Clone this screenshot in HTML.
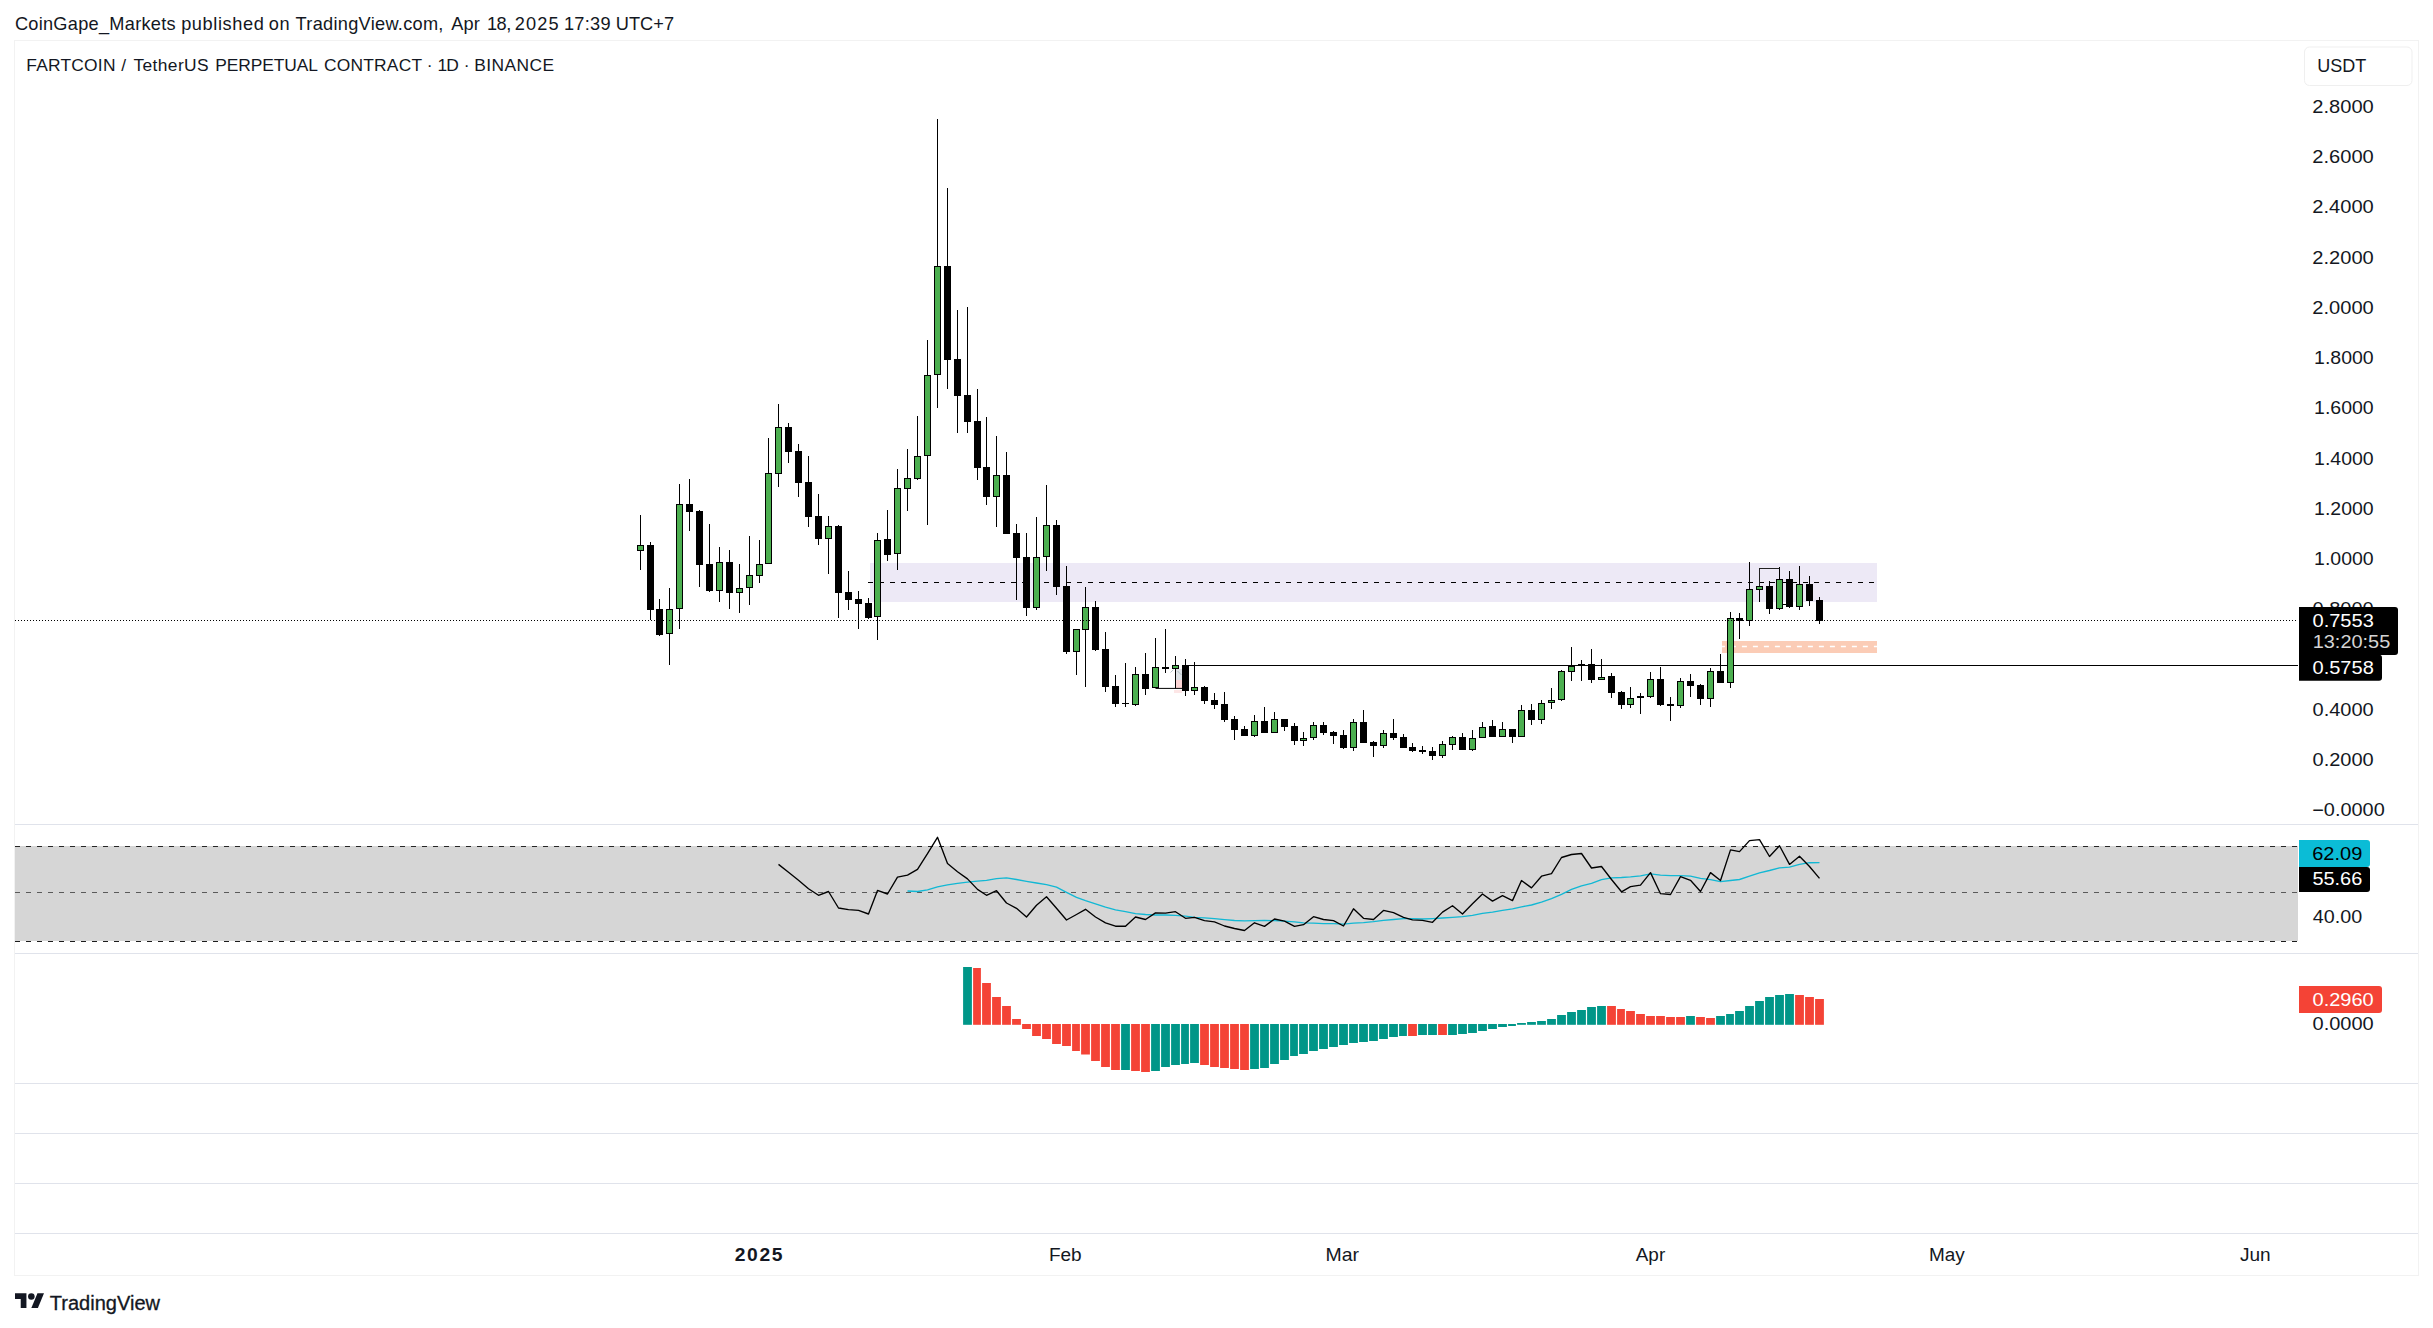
<!DOCTYPE html>
<html lang="en">
<head>
<meta charset="utf-8">
<title>FARTCOIN / TetherUS PERPETUAL CONTRACT - TradingView snapshot</title>
<style>
html,body{margin:0;padding:0;background:#fff;}
body{width:2433px;height:1328px;position:relative;overflow:hidden;font-family:"Liberation Sans", Arial, sans-serif;color:#131722;}
.chart{position:absolute;left:0;top:0;display:block;}
.header{position:absolute;left:0;top:0;width:2433px;height:40px;}
.footer{position:absolute;left:0;top:1276px;width:2433px;height:52px;}
svg text{white-space:pre;}
</style>
</head>
<body>
<svg class="chart" width="2433" height="1328" viewBox="0 0 2433 1328" font-family='"Liberation Sans", Arial, sans-serif'>
<g shape-rendering="crispEdges">
<rect x="14" y="40" width="2405" height="1" fill="#f2f2f2" />
<rect x="14" y="1275" width="2405" height="1" fill="#f2f2f2" />
<rect x="14" y="40" width="1" height="1236" fill="#f2f2f2" />
<rect x="2418" y="40" width="1" height="1236" fill="#f2f2f2" />
<rect x="15" y="824" width="2403" height="1" fill="#e0e3eb" />
<rect x="15" y="953" width="2403" height="1" fill="#e0e3eb" />
<rect x="15" y="1083" width="2403" height="1" fill="#e0e3eb" />
<rect x="15" y="1133" width="2403" height="1" fill="#e0e3eb" />
<rect x="15" y="1183" width="2403" height="1" fill="#e0e3eb" />
<rect x="15" y="1233" width="2403" height="1" fill="#e0e3eb" />
</g>
<g shape-rendering="crispEdges">
<rect x="870" y="563" width="1007" height="39" fill="#ede9f6" />
<rect x="1722" y="641" width="155" height="12" fill="#fbccb6" />
</g>
<line x1="1719.9" y1="646.5" x2="1877" y2="646.5" stroke="#ffffff" stroke-width="1.5" stroke-dasharray="5 6"/>
<g shape-rendering="crispEdges">
<rect x="15" y="846" width="2283" height="95.3" fill="#d6d6d6" />
</g>
<line x1="15" y1="846.5" x2="2298" y2="846.5" stroke="#262626" stroke-width="1" stroke-dasharray="5 6"/>
<line x1="15" y1="892.5" x2="2298" y2="892.5" stroke="#5a5a5a" stroke-width="1" stroke-dasharray="5 6"/>
<line x1="15" y1="941.5" x2="2298" y2="941.5" stroke="#1c1c1c" stroke-width="1.2" stroke-dasharray="5 6"/>
<g shape-rendering="crispEdges">
<rect x="1176" y="669" width="6" height="11" fill="#dde2e6" />
<rect x="1176" y="680" width="6" height="8" fill="#fbd3d3" />
<rect x="1174" y="690" width="8" height="3" fill="#fde6e6" />
</g>
<path d="M1155.5 688.4H1182.5M1175.5 668.5V688.4" stroke="#000" stroke-width="1" fill="none"/>
<path d="M1170.5 672.5l3-3M1177.5 671l4 4" stroke="#9fb3b8" stroke-width="0.8" fill="none"/>
<line x1="868" y1="582.5" x2="1875" y2="582.5" stroke="#000" stroke-width="1" stroke-dasharray="5 6"/>
<g shape-rendering="crispEdges">
<rect x="1186" y="665" width="1112" height="1" fill="#000" />
</g>
<g shape-rendering="crispEdges">
<rect x="640" y="515" width="1" height="55" fill="#000" />
<rect x="637" y="545" width="7" height="6" fill="#000" />
<rect x="638" y="546" width="5" height="4" fill="#4caf50" />
<rect x="650" y="542" width="1" height="78" fill="#000" />
<rect x="647" y="545" width="7" height="65" fill="#000" />
<rect x="659" y="599" width="1" height="37" fill="#000" />
<rect x="656" y="609" width="7" height="26" fill="#000" />
<rect x="669" y="588" width="1" height="77" fill="#000" />
<rect x="666" y="609" width="7" height="25" fill="#000" />
<rect x="667" y="610" width="5" height="23" fill="#4caf50" />
<rect x="679" y="484" width="1" height="145" fill="#000" />
<rect x="676" y="504" width="7" height="105" fill="#000" />
<rect x="677" y="505" width="5" height="103" fill="#4caf50" />
<rect x="689" y="479" width="1" height="52" fill="#000" />
<rect x="686" y="504" width="7" height="8" fill="#000" />
<rect x="699" y="510" width="1" height="77" fill="#000" />
<rect x="696" y="511" width="7" height="54" fill="#000" />
<rect x="709" y="524" width="1" height="68" fill="#000" />
<rect x="706" y="564" width="7" height="27" fill="#000" />
<rect x="719" y="547" width="1" height="55" fill="#000" />
<rect x="716" y="562" width="7" height="29" fill="#000" />
<rect x="717" y="563" width="5" height="27" fill="#4caf50" />
<rect x="729" y="550" width="1" height="59" fill="#000" />
<rect x="726" y="562" width="7" height="31" fill="#000" />
<rect x="739" y="564" width="1" height="49" fill="#000" />
<rect x="736" y="588" width="7" height="5" fill="#000" />
<rect x="737" y="589" width="5" height="3" fill="#4caf50" />
<rect x="749" y="536" width="1" height="69" fill="#000" />
<rect x="746" y="575" width="7" height="13" fill="#000" />
<rect x="747" y="576" width="5" height="11" fill="#4caf50" />
<rect x="759" y="540" width="1" height="43" fill="#000" />
<rect x="756" y="564" width="7" height="12" fill="#000" />
<rect x="757" y="565" width="5" height="10" fill="#4caf50" />
<rect x="768" y="438" width="1" height="126" fill="#000" />
<rect x="765" y="473" width="7" height="91" fill="#000" />
<rect x="766" y="474" width="5" height="89" fill="#4caf50" />
<rect x="778" y="404" width="1" height="83" fill="#000" />
<rect x="775" y="427" width="7" height="47" fill="#000" />
<rect x="776" y="428" width="5" height="45" fill="#4caf50" />
<rect x="788" y="423" width="1" height="40" fill="#000" />
<rect x="785" y="427" width="7" height="25" fill="#000" />
<rect x="798" y="444" width="1" height="53" fill="#000" />
<rect x="795" y="451" width="7" height="32" fill="#000" />
<rect x="808" y="456" width="1" height="71" fill="#000" />
<rect x="805" y="482" width="7" height="35" fill="#000" />
<rect x="818" y="494" width="1" height="51" fill="#000" />
<rect x="815" y="516" width="7" height="23" fill="#000" />
<rect x="828" y="516" width="1" height="58" fill="#000" />
<rect x="825" y="526" width="7" height="13" fill="#000" />
<rect x="826" y="527" width="5" height="11" fill="#4caf50" />
<rect x="838" y="525" width="1" height="93" fill="#000" />
<rect x="835" y="526" width="7" height="67" fill="#000" />
<rect x="848" y="571" width="1" height="39" fill="#000" />
<rect x="845" y="592" width="7" height="8" fill="#000" />
<rect x="858" y="591" width="1" height="38" fill="#000" />
<rect x="855" y="599" width="7" height="5" fill="#000" />
<rect x="868" y="598" width="1" height="21" fill="#000" />
<rect x="865" y="603" width="7" height="15" fill="#000" />
<rect x="877" y="533" width="1" height="107" fill="#000" />
<rect x="874" y="540" width="7" height="77" fill="#000" />
<rect x="875" y="541" width="5" height="75" fill="#4caf50" />
<rect x="887" y="510" width="1" height="51" fill="#000" />
<rect x="884" y="539" width="7" height="16" fill="#000" />
<rect x="897" y="469" width="1" height="101" fill="#000" />
<rect x="894" y="488" width="7" height="66" fill="#000" />
<rect x="895" y="489" width="5" height="64" fill="#4caf50" />
<rect x="907" y="449" width="1" height="62" fill="#000" />
<rect x="904" y="478" width="7" height="11" fill="#000" />
<rect x="905" y="479" width="5" height="9" fill="#4caf50" />
<rect x="917" y="416" width="1" height="64" fill="#000" />
<rect x="914" y="456" width="7" height="23" fill="#000" />
<rect x="915" y="457" width="5" height="21" fill="#4caf50" />
<rect x="927" y="340" width="1" height="185" fill="#000" />
<rect x="924" y="375" width="7" height="81" fill="#000" />
<rect x="925" y="376" width="5" height="79" fill="#4caf50" />
<rect x="937" y="119" width="1" height="289" fill="#000" />
<rect x="934" y="266" width="7" height="109" fill="#000" />
<rect x="935" y="267" width="5" height="107" fill="#4caf50" />
<rect x="947" y="188" width="1" height="201" fill="#000" />
<rect x="944" y="266" width="7" height="94" fill="#000" />
<rect x="957" y="310" width="1" height="123" fill="#000" />
<rect x="954" y="359" width="7" height="37" fill="#000" />
<rect x="967" y="307" width="1" height="126" fill="#000" />
<rect x="964" y="395" width="7" height="27" fill="#000" />
<rect x="977" y="389" width="1" height="91" fill="#000" />
<rect x="974" y="421" width="7" height="47" fill="#000" />
<rect x="986" y="417" width="1" height="88" fill="#000" />
<rect x="983" y="467" width="7" height="30" fill="#000" />
<rect x="996" y="436" width="1" height="91" fill="#000" />
<rect x="993" y="475" width="7" height="22" fill="#000" />
<rect x="994" y="476" width="5" height="20" fill="#4caf50" />
<rect x="1006" y="452" width="1" height="82" fill="#000" />
<rect x="1003" y="475" width="7" height="59" fill="#000" />
<rect x="1016" y="524" width="1" height="76" fill="#000" />
<rect x="1013" y="533" width="7" height="25" fill="#000" />
<rect x="1026" y="533" width="1" height="83" fill="#000" />
<rect x="1023" y="557" width="7" height="51" fill="#000" />
<rect x="1036" y="517" width="1" height="93" fill="#000" />
<rect x="1033" y="557" width="7" height="51" fill="#000" />
<rect x="1034" y="558" width="5" height="49" fill="#4caf50" />
<rect x="1046" y="485" width="1" height="86" fill="#000" />
<rect x="1043" y="525" width="7" height="32" fill="#000" />
<rect x="1044" y="526" width="5" height="30" fill="#4caf50" />
<rect x="1056" y="520" width="1" height="75" fill="#000" />
<rect x="1053" y="525" width="7" height="62" fill="#000" />
<rect x="1066" y="566" width="1" height="88" fill="#000" />
<rect x="1063" y="586" width="7" height="66" fill="#000" />
<rect x="1076" y="629" width="1" height="46" fill="#000" />
<rect x="1073" y="629" width="7" height="23" fill="#000" />
<rect x="1074" y="630" width="5" height="21" fill="#4caf50" />
<rect x="1085" y="587" width="1" height="100" fill="#000" />
<rect x="1082" y="607" width="7" height="23" fill="#000" />
<rect x="1083" y="608" width="5" height="21" fill="#4caf50" />
<rect x="1095" y="601" width="1" height="50" fill="#000" />
<rect x="1092" y="607" width="7" height="43" fill="#000" />
<rect x="1105" y="632" width="1" height="60" fill="#000" />
<rect x="1102" y="649" width="7" height="38" fill="#000" />
<rect x="1115" y="675" width="1" height="32" fill="#000" />
<rect x="1112" y="686" width="7" height="18" fill="#000" />
<rect x="1125" y="663" width="1" height="44" fill="#000" />
<rect x="1122" y="703" width="7" height="1" fill="#000" />
<rect x="1135" y="667" width="1" height="39" fill="#000" />
<rect x="1132" y="674" width="7" height="31" fill="#000" />
<rect x="1133" y="675" width="5" height="29" fill="#4caf50" />
<rect x="1145" y="653" width="1" height="42" fill="#000" />
<rect x="1142" y="674" width="7" height="15" fill="#000" />
<rect x="1155" y="638" width="1" height="50" fill="#000" />
<rect x="1152" y="667" width="7" height="21" fill="#000" />
<rect x="1153" y="668" width="5" height="19" fill="#4caf50" />
<rect x="1165" y="629" width="1" height="44" fill="#000" />
<rect x="1162" y="667" width="7" height="2" fill="#000" />
<rect x="1175" y="656" width="1" height="13" fill="#000" />
<rect x="1172" y="665" width="7" height="4" fill="#000" />
<rect x="1173" y="666" width="5" height="2" fill="#4caf50" />
<rect x="1185" y="659" width="1" height="37" fill="#000" />
<rect x="1182" y="665" width="7" height="26" fill="#000" />
<rect x="1194" y="662" width="1" height="33" fill="#000" />
<rect x="1191" y="687" width="7" height="4" fill="#000" />
<rect x="1192" y="688" width="5" height="2" fill="#4caf50" />
<rect x="1204" y="686" width="1" height="18" fill="#000" />
<rect x="1201" y="687" width="7" height="14" fill="#000" />
<rect x="1214" y="693" width="1" height="16" fill="#000" />
<rect x="1211" y="700" width="7" height="5" fill="#000" />
<rect x="1224" y="692" width="1" height="30" fill="#000" />
<rect x="1221" y="704" width="7" height="16" fill="#000" />
<rect x="1234" y="716" width="1" height="24" fill="#000" />
<rect x="1231" y="719" width="7" height="11" fill="#000" />
<rect x="1244" y="726" width="1" height="10" fill="#000" />
<rect x="1241" y="729" width="7" height="7" fill="#000" />
<rect x="1254" y="715" width="1" height="22" fill="#000" />
<rect x="1251" y="721" width="7" height="15" fill="#000" />
<rect x="1252" y="722" width="5" height="13" fill="#4caf50" />
<rect x="1264" y="707" width="1" height="26" fill="#000" />
<rect x="1261" y="721" width="7" height="12" fill="#000" />
<rect x="1274" y="712" width="1" height="21" fill="#000" />
<rect x="1271" y="719" width="7" height="14" fill="#000" />
<rect x="1272" y="720" width="5" height="12" fill="#4caf50" />
<rect x="1284" y="719" width="1" height="12" fill="#000" />
<rect x="1281" y="719" width="7" height="8" fill="#000" />
<rect x="1294" y="723" width="1" height="22" fill="#000" />
<rect x="1291" y="726" width="7" height="15" fill="#000" />
<rect x="1303" y="732" width="1" height="14" fill="#000" />
<rect x="1300" y="738" width="7" height="3" fill="#000" />
<rect x="1301" y="739" width="5" height="1" fill="#4caf50" />
<rect x="1313" y="722" width="1" height="18" fill="#000" />
<rect x="1310" y="725" width="7" height="13" fill="#000" />
<rect x="1311" y="726" width="5" height="11" fill="#4caf50" />
<rect x="1323" y="722" width="1" height="13" fill="#000" />
<rect x="1320" y="725" width="7" height="8" fill="#000" />
<rect x="1333" y="731" width="1" height="13" fill="#000" />
<rect x="1330" y="732" width="7" height="4" fill="#000" />
<rect x="1343" y="730" width="1" height="19" fill="#000" />
<rect x="1340" y="735" width="7" height="13" fill="#000" />
<rect x="1353" y="719" width="1" height="32" fill="#000" />
<rect x="1350" y="722" width="7" height="26" fill="#000" />
<rect x="1351" y="723" width="5" height="24" fill="#4caf50" />
<rect x="1363" y="710" width="1" height="33" fill="#000" />
<rect x="1360" y="722" width="7" height="21" fill="#000" />
<rect x="1373" y="741" width="1" height="16" fill="#000" />
<rect x="1370" y="742" width="7" height="4" fill="#000" />
<rect x="1383" y="730" width="1" height="18" fill="#000" />
<rect x="1380" y="733" width="7" height="13" fill="#000" />
<rect x="1381" y="734" width="5" height="11" fill="#4caf50" />
<rect x="1393" y="719" width="1" height="21" fill="#000" />
<rect x="1390" y="733" width="7" height="5" fill="#000" />
<rect x="1403" y="734" width="1" height="14" fill="#000" />
<rect x="1400" y="737" width="7" height="11" fill="#000" />
<rect x="1412" y="743" width="1" height="9" fill="#000" />
<rect x="1409" y="747" width="7" height="4" fill="#000" />
<rect x="1422" y="746" width="1" height="8" fill="#000" />
<rect x="1419" y="750" width="7" height="2" fill="#000" />
<rect x="1432" y="747" width="1" height="13" fill="#000" />
<rect x="1429" y="751" width="7" height="5" fill="#000" />
<rect x="1442" y="741" width="1" height="17" fill="#000" />
<rect x="1439" y="744" width="7" height="12" fill="#000" />
<rect x="1440" y="745" width="5" height="10" fill="#4caf50" />
<rect x="1452" y="736" width="1" height="14" fill="#000" />
<rect x="1449" y="737" width="7" height="8" fill="#000" />
<rect x="1450" y="738" width="5" height="6" fill="#4caf50" />
<rect x="1462" y="733" width="1" height="17" fill="#000" />
<rect x="1459" y="737" width="7" height="13" fill="#000" />
<rect x="1472" y="730" width="1" height="21" fill="#000" />
<rect x="1469" y="738" width="7" height="12" fill="#000" />
<rect x="1470" y="739" width="5" height="10" fill="#4caf50" />
<rect x="1482" y="722" width="1" height="16" fill="#000" />
<rect x="1479" y="727" width="7" height="11" fill="#000" />
<rect x="1480" y="728" width="5" height="9" fill="#4caf50" />
<rect x="1492" y="720" width="1" height="17" fill="#000" />
<rect x="1489" y="726" width="7" height="11" fill="#000" />
<rect x="1502" y="722" width="1" height="15" fill="#000" />
<rect x="1499" y="729" width="7" height="8" fill="#000" />
<rect x="1500" y="730" width="5" height="6" fill="#4caf50" />
<rect x="1512" y="729" width="1" height="14" fill="#000" />
<rect x="1509" y="729" width="7" height="8" fill="#000" />
<rect x="1521" y="705" width="1" height="32" fill="#000" />
<rect x="1518" y="710" width="7" height="27" fill="#000" />
<rect x="1519" y="711" width="5" height="25" fill="#4caf50" />
<rect x="1531" y="704" width="1" height="21" fill="#000" />
<rect x="1528" y="710" width="7" height="10" fill="#000" />
<rect x="1541" y="700" width="1" height="24" fill="#000" />
<rect x="1538" y="703" width="7" height="17" fill="#000" />
<rect x="1539" y="704" width="5" height="15" fill="#4caf50" />
<rect x="1551" y="688" width="1" height="21" fill="#000" />
<rect x="1548" y="700" width="7" height="3" fill="#000" />
<rect x="1549" y="701" width="5" height="1" fill="#4caf50" />
<rect x="1561" y="670" width="1" height="31" fill="#000" />
<rect x="1558" y="671" width="7" height="29" fill="#000" />
<rect x="1559" y="672" width="5" height="27" fill="#4caf50" />
<rect x="1571" y="647" width="1" height="34" fill="#000" />
<rect x="1568" y="666" width="7" height="6" fill="#000" />
<rect x="1569" y="667" width="5" height="4" fill="#4caf50" />
<rect x="1581" y="660" width="1" height="21" fill="#000" />
<rect x="1578" y="664" width="7" height="2" fill="#000" />
<rect x="1591" y="649" width="1" height="34" fill="#000" />
<rect x="1588" y="664" width="7" height="16" fill="#000" />
<rect x="1601" y="659" width="1" height="21" fill="#000" />
<rect x="1598" y="677" width="7" height="3" fill="#000" />
<rect x="1599" y="678" width="5" height="1" fill="#4caf50" />
<rect x="1611" y="673" width="1" height="25" fill="#000" />
<rect x="1608" y="676" width="7" height="17" fill="#000" />
<rect x="1621" y="691" width="1" height="18" fill="#000" />
<rect x="1618" y="692" width="7" height="13" fill="#000" />
<rect x="1630" y="687" width="1" height="21" fill="#000" />
<rect x="1627" y="698" width="7" height="7" fill="#000" />
<rect x="1628" y="699" width="5" height="5" fill="#4caf50" />
<rect x="1640" y="693" width="1" height="21" fill="#000" />
<rect x="1637" y="696" width="7" height="2" fill="#000" />
<rect x="1650" y="672" width="1" height="26" fill="#000" />
<rect x="1647" y="679" width="7" height="18" fill="#000" />
<rect x="1648" y="680" width="5" height="16" fill="#4caf50" />
<rect x="1660" y="667" width="1" height="39" fill="#000" />
<rect x="1657" y="679" width="7" height="26" fill="#000" />
<rect x="1670" y="697" width="1" height="24" fill="#000" />
<rect x="1667" y="704" width="7" height="2" fill="#000" />
<rect x="1680" y="678" width="1" height="30" fill="#000" />
<rect x="1677" y="681" width="7" height="25" fill="#000" />
<rect x="1678" y="682" width="5" height="23" fill="#4caf50" />
<rect x="1690" y="674" width="1" height="23" fill="#000" />
<rect x="1687" y="681" width="7" height="5" fill="#000" />
<rect x="1700" y="684" width="1" height="21" fill="#000" />
<rect x="1697" y="685" width="7" height="14" fill="#000" />
<rect x="1710" y="668" width="1" height="39" fill="#000" />
<rect x="1707" y="671" width="7" height="28" fill="#000" />
<rect x="1708" y="672" width="5" height="26" fill="#4caf50" />
<rect x="1720" y="654" width="1" height="29" fill="#000" />
<rect x="1717" y="671" width="7" height="12" fill="#000" />
<rect x="1730" y="612" width="1" height="76" fill="#000" />
<rect x="1727" y="618" width="7" height="65" fill="#000" />
<rect x="1728" y="619" width="5" height="63" fill="#4caf50" />
<rect x="1739" y="613" width="1" height="26" fill="#000" />
<rect x="1736" y="618" width="7" height="3" fill="#000" />
<rect x="1749" y="562" width="1" height="64" fill="#000" />
<rect x="1746" y="589" width="7" height="32" fill="#000" />
<rect x="1747" y="590" width="5" height="30" fill="#4caf50" />
<rect x="1759" y="568" width="1" height="34" fill="#000" />
<rect x="1756" y="586" width="7" height="4" fill="#000" />
<rect x="1757" y="587" width="5" height="2" fill="#4caf50" />
<rect x="1769" y="581" width="1" height="33" fill="#000" />
<rect x="1766" y="586" width="7" height="23" fill="#000" />
<rect x="1779" y="567" width="1" height="43" fill="#000" />
<rect x="1776" y="579" width="7" height="30" fill="#000" />
<rect x="1777" y="580" width="5" height="28" fill="#4caf50" />
<rect x="1789" y="571" width="1" height="37" fill="#000" />
<rect x="1786" y="579" width="7" height="28" fill="#000" />
<rect x="1799" y="566" width="1" height="44" fill="#000" />
<rect x="1796" y="584" width="7" height="23" fill="#000" />
<rect x="1797" y="585" width="5" height="21" fill="#4caf50" />
<rect x="1809" y="576" width="1" height="30" fill="#000" />
<rect x="1806" y="584" width="7" height="17" fill="#000" />
<rect x="1819" y="597" width="1" height="27" fill="#000" />
<rect x="1816" y="600" width="7" height="21" fill="#000" />
</g>
<line x1="15" y1="620.5" x2="2298" y2="620.5" stroke="#000" stroke-width="1" stroke-dasharray="1 2"/>
<path d="M1759.5 586V568.5H1779.5" stroke="#222" stroke-width="1" fill="none"/>
<path d="M1783 604.5H1786" stroke="#000" stroke-width="1" fill="none"/>
<polyline points="907.5,891.0 917.5,891.5 927.5,889.9 937.5,886.9 947.5,884.9 957.5,883.3 967.5,882.1 977.5,881.2 986.5,880.3 996.5,878.7 1006.5,877.9 1016.5,879.5 1026.5,881.3 1036.5,883.0 1046.5,884.6 1056.5,887.1 1066.5,892.3 1076.5,897.3 1085.5,900.6 1095.5,903.8 1105.5,907.1 1115.5,909.8 1125.5,911.7 1135.5,913.7 1145.5,914.5 1155.5,915.0 1165.5,915.0 1175.5,915.4 1185.5,916.2 1194.5,917.3 1204.5,917.8 1214.5,918.6 1224.5,919.6 1234.5,920.5 1244.5,920.9 1254.5,920.6 1264.5,920.5 1274.5,920.6 1284.5,921.1 1294.5,921.9 1303.5,922.8 1313.5,923.2 1323.5,923.6 1333.5,923.6 1343.5,924.1 1353.5,923.2 1363.5,922.6 1373.5,921.6 1383.5,920.3 1393.5,919.5 1403.5,918.6 1412.5,918.6 1422.5,919.0 1432.5,918.6 1442.5,918.0 1452.5,917.3 1462.5,916.7 1472.5,915.4 1482.5,913.4 1492.5,912.1 1502.5,910.4 1512.5,908.8 1521.5,906.8 1531.5,905.0 1541.5,902.2 1551.5,898.6 1561.5,894.3 1571.5,889.4 1581.5,885.8 1591.5,883.3 1601.5,879.7 1611.5,877.9 1621.5,877.5 1630.5,876.9 1640.5,875.9 1650.5,873.9 1660.5,875.1 1670.5,875.6 1680.5,875.6 1690.5,876.2 1700.5,878.4 1710.5,879.7 1720.5,881.7 1730.5,880.5 1739.5,879.5 1749.5,876.2 1759.5,872.9 1769.5,870.5 1779.5,867.8 1789.5,867.2 1799.5,864.4 1809.5,862.7 1819.5,862.6" fill="none" stroke="#12b8d4" stroke-width="1.35" stroke-linejoin="round"/>
<polyline points="778.5,864.4 788.5,872.3 798.5,880.3 808.5,888.7 818.5,895.3 828.5,891.5 838.5,908.0 848.5,909.6 858.5,910.4 868.5,914.0 877.5,890.4 887.5,894.0 897.5,877.2 907.5,875.1 917.5,869.3 927.5,853.7 937.5,837.3 947.5,863.6 957.5,871.8 967.5,878.9 977.5,889.4 986.5,895.3 996.5,890.7 1006.5,903.0 1016.5,908.3 1026.5,917.0 1036.5,905.2 1046.5,896.8 1056.5,908.3 1066.5,920.0 1076.5,914.5 1085.5,909.3 1095.5,917.0 1105.5,922.8 1115.5,926.2 1125.5,926.2 1135.5,917.0 1145.5,919.5 1155.5,912.9 1165.5,913.2 1175.5,911.7 1185.5,918.3 1194.5,917.3 1204.5,920.6 1214.5,921.9 1224.5,926.0 1234.5,928.5 1244.5,930.5 1254.5,922.8 1264.5,926.4 1274.5,919.0 1284.5,921.1 1294.5,926.4 1303.5,924.7 1313.5,916.7 1323.5,919.5 1333.5,920.6 1343.5,926.0 1353.5,908.8 1363.5,918.3 1373.5,919.5 1383.5,910.4 1393.5,912.6 1403.5,917.3 1412.5,919.8 1422.5,920.3 1432.5,922.3 1442.5,912.1 1452.5,905.7 1462.5,914.0 1472.5,903.8 1482.5,894.0 1492.5,901.1 1502.5,895.6 1512.5,900.6 1521.5,880.5 1531.5,887.9 1541.5,876.2 1551.5,873.6 1561.5,857.5 1571.5,854.5 1581.5,853.5 1591.5,868.0 1601.5,866.5 1611.5,879.5 1621.5,891.8 1630.5,886.6 1640.5,885.1 1650.5,872.6 1660.5,893.7 1670.5,894.5 1680.5,876.7 1690.5,880.3 1700.5,891.5 1710.5,872.6 1720.5,880.5 1730.5,849.9 1739.5,851.6 1749.5,840.6 1759.5,839.6 1769.5,856.5 1779.5,845.8 1789.5,864.4 1799.5,856.2 1809.5,866.5 1819.5,878.4" fill="none" stroke="#000" stroke-width="1.35" stroke-linejoin="round"/>
<rect x="963.1" y="967" width="8.8" height="57.8" fill="#009688" />
<rect x="973.1" y="968" width="7.8" height="56.8" fill="#f44336" />
<rect x="982.1" y="983" width="8.8" height="41.8" fill="#f44336" />
<rect x="992.1" y="997" width="8.8" height="27.8" fill="#f44336" />
<rect x="1002.1" y="1006" width="8.8" height="18.8" fill="#f44336" />
<rect x="1012.1" y="1019" width="8.8" height="5.8" fill="#f44336" />
<rect x="1022.1" y="1024" width="8.8" height="5" fill="#f44336" />
<rect x="1032.1" y="1024" width="8.8" height="12" fill="#f44336" />
<rect x="1042.1" y="1024" width="8.8" height="15" fill="#f44336" />
<rect x="1052.1" y="1024" width="8.8" height="20" fill="#f44336" />
<rect x="1062.1" y="1024" width="8.8" height="22" fill="#f44336" />
<rect x="1072.1" y="1024" width="7.8" height="27" fill="#f44336" />
<rect x="1081.1" y="1024" width="8.8" height="30.5" fill="#f44336" />
<rect x="1091.1" y="1024" width="8.8" height="37" fill="#f44336" />
<rect x="1101.1" y="1024" width="8.8" height="43" fill="#f44336" />
<rect x="1111.1" y="1024" width="8.8" height="46" fill="#f44336" />
<rect x="1121.1" y="1024" width="8.8" height="46" fill="#009688" />
<rect x="1131.1" y="1024" width="8.8" height="47" fill="#f44336" />
<rect x="1141.1" y="1024" width="8.8" height="48" fill="#f44336" />
<rect x="1151.1" y="1024" width="8.8" height="47" fill="#009688" />
<rect x="1161.1" y="1024" width="8.8" height="43" fill="#009688" />
<rect x="1171.1" y="1024" width="8.8" height="41" fill="#009688" />
<rect x="1181.1" y="1024" width="7.8" height="40" fill="#009688" />
<rect x="1190.1" y="1024" width="8.8" height="39" fill="#009688" />
<rect x="1200.1" y="1024" width="8.8" height="41" fill="#f44336" />
<rect x="1210.1" y="1024" width="8.8" height="43" fill="#f44336" />
<rect x="1220.1" y="1024" width="8.8" height="44" fill="#f44336" />
<rect x="1230.1" y="1024" width="8.8" height="45" fill="#f44336" />
<rect x="1240.1" y="1024" width="8.8" height="46" fill="#f44336" />
<rect x="1250.1" y="1024" width="8.8" height="45" fill="#009688" />
<rect x="1260.1" y="1024" width="8.8" height="44" fill="#009688" />
<rect x="1270.1" y="1024" width="8.8" height="40" fill="#009688" />
<rect x="1280.1" y="1024" width="8.8" height="36" fill="#009688" />
<rect x="1290.1" y="1024" width="7.8" height="32" fill="#009688" />
<rect x="1299.1" y="1024" width="8.8" height="30" fill="#009688" />
<rect x="1309.1" y="1024" width="8.8" height="27" fill="#009688" />
<rect x="1319.1" y="1024" width="8.8" height="25" fill="#009688" />
<rect x="1329.1" y="1024" width="8.8" height="23" fill="#009688" />
<rect x="1339.1" y="1024" width="8.8" height="21" fill="#009688" />
<rect x="1349.1" y="1024" width="8.8" height="19" fill="#009688" />
<rect x="1359.1" y="1024" width="8.8" height="18" fill="#009688" />
<rect x="1369.1" y="1024" width="8.8" height="17" fill="#009688" />
<rect x="1379.1" y="1024" width="8.8" height="15" fill="#009688" />
<rect x="1389.1" y="1024" width="8.8" height="13" fill="#009688" />
<rect x="1399.1" y="1024" width="7.8" height="12" fill="#009688" />
<rect x="1408.1" y="1024" width="8.8" height="12" fill="#f44336" />
<rect x="1418.1" y="1024" width="8.8" height="11" fill="#009688" />
<rect x="1428.1" y="1024" width="8.8" height="11" fill="#009688" />
<rect x="1438.1" y="1024" width="8.8" height="11" fill="#f44336" />
<rect x="1448.1" y="1024" width="8.8" height="11" fill="#009688" />
<rect x="1458.1" y="1024" width="8.8" height="10" fill="#009688" />
<rect x="1468.1" y="1024" width="8.8" height="9" fill="#009688" />
<rect x="1478.1" y="1024" width="8.8" height="7" fill="#009688" />
<rect x="1488.1" y="1024" width="8.8" height="5" fill="#009688" />
<rect x="1498.1" y="1024" width="8.8" height="3" fill="#009688" />
<rect x="1508.1" y="1024" width="7.8" height="2" fill="#009688" />
<rect x="1517.1" y="1023" width="8.8" height="1.8" fill="#009688" />
<rect x="1527.1" y="1022" width="8.8" height="2.8" fill="#009688" />
<rect x="1537.1" y="1021" width="8.8" height="3.8" fill="#009688" />
<rect x="1547.1" y="1019" width="8.8" height="5.8" fill="#009688" />
<rect x="1557.1" y="1015" width="8.8" height="9.8" fill="#009688" />
<rect x="1567.1" y="1012" width="8.8" height="12.8" fill="#009688" />
<rect x="1577.1" y="1010" width="8.8" height="14.8" fill="#009688" />
<rect x="1587.1" y="1007" width="8.8" height="17.8" fill="#009688" />
<rect x="1597.1" y="1006" width="8.8" height="18.8" fill="#009688" />
<rect x="1607.1" y="1006" width="8.8" height="18.8" fill="#f44336" />
<rect x="1617.1" y="1009" width="7.8" height="15.8" fill="#f44336" />
<rect x="1626.1" y="1011" width="8.8" height="13.8" fill="#f44336" />
<rect x="1636.1" y="1014" width="8.8" height="10.8" fill="#f44336" />
<rect x="1646.1" y="1016" width="8.8" height="8.8" fill="#f44336" />
<rect x="1656.1" y="1016" width="8.8" height="8.8" fill="#f44336" />
<rect x="1666.1" y="1017" width="8.8" height="7.8" fill="#f44336" />
<rect x="1676.1" y="1017" width="8.8" height="7.8" fill="#f44336" />
<rect x="1686.1" y="1016" width="8.8" height="8.8" fill="#009688" />
<rect x="1696.1" y="1017" width="8.8" height="7.8" fill="#f44336" />
<rect x="1706.1" y="1018" width="8.8" height="6.8" fill="#f44336" />
<rect x="1716.1" y="1016" width="8.8" height="8.8" fill="#009688" />
<rect x="1726.1" y="1014" width="7.8" height="10.8" fill="#009688" />
<rect x="1735.1" y="1011" width="8.8" height="13.8" fill="#009688" />
<rect x="1745.1" y="1006" width="8.8" height="18.8" fill="#009688" />
<rect x="1755.1" y="1001" width="8.8" height="23.8" fill="#009688" />
<rect x="1765.1" y="997" width="8.8" height="27.8" fill="#009688" />
<rect x="1775.1" y="995" width="8.8" height="29.8" fill="#009688" />
<rect x="1785.1" y="994" width="8.8" height="30.8" fill="#009688" />
<rect x="1795.1" y="995" width="8.8" height="29.8" fill="#f44336" />
<rect x="1805.1" y="997" width="8.8" height="27.8" fill="#f44336" />
<rect x="1815.1" y="999" width="8.8" height="25.8" fill="#f44336" />
<text transform="translate(2312.29 112.9) scale(1.1170 1)" font-size="18" fill="#131722">2.8000</text>
<text transform="translate(2312.29 163.13) scale(1.1170 1)" font-size="18" fill="#131722">2.6000</text>
<text transform="translate(2312.29 213.36) scale(1.1170 1)" font-size="18" fill="#131722">2.4000</text>
<text transform="translate(2312.29 263.59) scale(1.1170 1)" font-size="18" fill="#131722">2.2000</text>
<text transform="translate(2312.29 313.82) scale(1.1170 1)" font-size="18" fill="#131722">2.0000</text>
<text transform="translate(2314.11 364.05) scale(1.0834 1)" font-size="18" fill="#131722">1.8000</text>
<text transform="translate(2314.11 414.28) scale(1.0834 1)" font-size="18" fill="#131722">1.6000</text>
<text transform="translate(2314.11 464.51) scale(1.0834 1)" font-size="18" fill="#131722">1.4000</text>
<text transform="translate(2314.11 514.74) scale(1.0834 1)" font-size="18" fill="#131722">1.2000</text>
<text transform="translate(2314.11 564.97) scale(1.0834 1)" font-size="18" fill="#131722">1.0000</text>
<text transform="translate(2312.52 615.2) scale(1.1128 1)" font-size="18" fill="#131722">0.8000</text>
<text transform="translate(2312.52 665.43) scale(1.1128 1)" font-size="18" fill="#131722">0.6000</text>
<text transform="translate(2312.52 715.66) scale(1.1128 1)" font-size="18" fill="#131722">0.4000</text>
<text transform="translate(2312.52 765.89) scale(1.1128 1)" font-size="18" fill="#131722">0.2000</text>
<text transform="translate(2312.22 816.12) scale(1.1067 1)" font-size="18" fill="#131722">−0.0000</text>
<path d="M2299 607H2395Q2398 607 2398 610V652Q2398 655 2395 655H2299Z" fill="#000"/>
<text transform="translate(2312.52 627.1) scale(1.1146 1)" font-size="18" fill="#fff">0.7553</text>
<text transform="translate(2312.68 647.8) scale(1.1083 1)" font-size="18" fill="#d4d4d4">13:20:55</text>
<path d="M2299 654.8H2379Q2382 654.8 2382 657.8V677.8Q2382 680.8 2379 680.8H2299Z" fill="#000"/>
<text transform="translate(2312.52 673.8) scale(1.1144 1)" font-size="18" fill="#fff">0.5758</text>
<path d="M2299 840H2367Q2370 840 2370 843V864Q2370 867 2367 867H2299Z" fill="#0bbcd6"/>
<text transform="translate(2312.18 860) scale(1.1137 1)" font-size="18" fill="#000">62.09</text>
<path d="M2299 867H2367Q2370 867 2370 870V889Q2370 892 2367 892H2299Z" fill="#000"/>
<text transform="translate(2312.40 885.3) scale(1.1072 1)" font-size="18" fill="#fff">55.66</text>
<text transform="translate(2312.75 922.7) scale(1.0973 1)" font-size="18" fill="#131722">40.00</text>
<path d="M2299 986H2379Q2382 986 2382 989V1010Q2382 1013 2379 1013H2299Z" fill="#f44336"/>
<text transform="translate(2312.52 1006) scale(1.1128 1)" font-size="18" fill="#fff">0.2960</text>
<text transform="translate(2312.52 1029.6) scale(1.1128 1)" font-size="18" fill="#131722">0.0000</text>
<rect x="2304.5" y="47" width="107.5" height="38.5" rx="5" ry="5" fill="#fff" stroke="#efefef" stroke-width="1"/>
<text transform="translate(2317.31 71.8) scale(1.0001 1)" font-size="18" fill="#131722">USDT</text>
<text transform="translate(734.63 1260.8) scale(1.07 1)" font-size="18" font-weight="bold" fill="#131722" letter-spacing="1.576">2025</text>
<text transform="translate(1048.94 1260.8) scale(1.0561 1)" font-size="18" fill="#131722">Feb</text>
<text transform="translate(1325.60 1260.8) scale(1.0813 1)" font-size="18" fill="#131722">Mar</text>
<text transform="translate(1635.76 1260.8) scale(1.0514 1)" font-size="18" fill="#131722">Apr</text>
<text transform="translate(1928.95 1260.8) scale(1.0525 1)" font-size="18" fill="#131722">May</text>
<text transform="translate(2239.90 1260.8) scale(1.0591 1)" font-size="18" fill="#131722">Jun</text>
<text y="70.7" font-size="17.4" fill="#131722"><tspan x="26.27" letter-spacing="0.231">FARTCOIN </tspan><tspan x="121.30" letter-spacing="0.000">/ </tspan><tspan x="133.51" letter-spacing="0.376">TetherUS </tspan><tspan x="215.37" letter-spacing="-0.108">PERPETUAL </tspan><tspan x="323.92" letter-spacing="0.218">CONTRACT </tspan><tspan x="426.74" letter-spacing="0.000">· </tspan><tspan x="437.47" letter-spacing="-0.885">1D </tspan><tspan x="463.74" letter-spacing="0.000">· </tspan><tspan x="474.37" letter-spacing="0.404">BINANCE</tspan></text>
</svg>
<svg class="header" width="2433" height="40" viewBox="0 0 2433 40" font-family='"Liberation Sans", Arial, sans-serif'>
<text y="30.3" font-size="18.2" fill="#131722"><tspan x="14.88" letter-spacing="0.272">CoinGape_Markets </tspan><tspan x="181.13" letter-spacing="0.603">published </tspan><tspan x="268.84" letter-spacing="0.602">on </tspan><tspan x="295.59" letter-spacing="0.286">TradingView.com, </tspan><tspan x="451.26" letter-spacing="0.108">Apr </tspan><tspan x="487.01" letter-spacing="-0.540">18, </tspan><tspan x="514.78" letter-spacing="1.131">2025 </tspan><tspan x="563.91" letter-spacing="0.276">17:39 </tspan><tspan x="615.70" letter-spacing="0.091">UTC+7</tspan></text>
</svg>
<svg class="footer" width="2433" height="52" viewBox="0 1276 2433 52" font-family='"Liberation Sans", Arial, sans-serif'>
<g transform="translate(15 1290.03) scale(0.817)" fill="#131722">
<path d="M14 22H7V11H0V4h14v18z"/>
<circle cx="20" cy="8" r="4"/>
<path d="M28 22h-8l7.5-18h8L28 22z"/>
</g>
<text transform="translate(49.85 1310) scale(1.0217 1)" font-size="19.6" fill="#131722" stroke="#131722" stroke-width="0.3">TradingView</text>
</svg>
</body>
</html>
